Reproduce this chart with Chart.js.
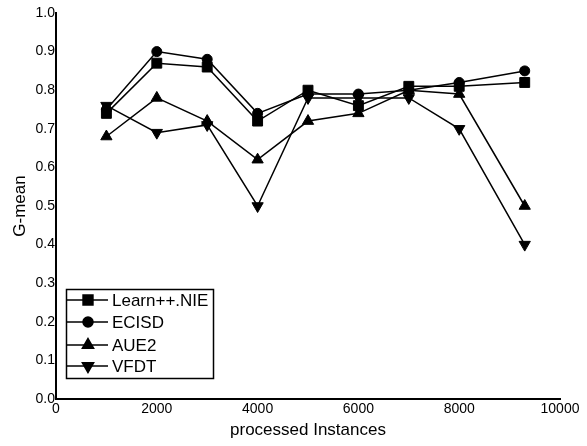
<!DOCTYPE html>
<html>
<head>
<meta charset="utf-8">
<script src="https://cdn.jsdelivr.net/npm/chart.js@4/dist/chart.umd.min.js"></script>
<style>
  body { margin: 0; background: #fff; }
  canvas { display: block; }
</style>
</head>
<body>
<canvas id="gmean" width="587" height="446"></canvas>
<script>
// processed instances (x) and G-mean per method
const instances = [1000, 2000, 3000, 4000, 5000, 6000, 7000, 8000, 9300];
const learnNIE = [0.74, 0.87, 0.86, 0.72, 0.80, 0.76, 0.81, 0.81, 0.82];
const ecisd    = [0.75, 0.90, 0.88, 0.74, 0.79, 0.79, 0.80, 0.82, 0.85];
const aue2     = [0.68, 0.78, 0.72, 0.62, 0.72, 0.74, 0.80, 0.79, 0.50];
const vfdt     = [0.76, 0.69, 0.71, 0.50, 0.78, 0.78, 0.78, 0.70, 0.40];
const seriesNames = ['Learn++.NIE', 'ECISD', 'AUE2', 'VFDT'];

const font = 'Arial, "Liberation Sans", sans-serif';

function series(label, values, style, radius, rotation) {
    return {
        label: label,
        data: values.map((v, i) => ({ x: instances[i], y: v })),
        borderColor: '#000',
        backgroundColor: '#000',
        borderWidth: 1.5,
        pointStyle: style,
        pointRadius: radius,
        pointRotation: rotation || 0,
        pointBorderWidth: 1,
        pointBackgroundColor: '#000',
        pointBorderColor: '#000',
        tension: 0
    };
}

// legend box with line + marker, drawn by hand
const boxLegend = {
    id: 'boxLegend',
    afterDraw(chart) {
        const ctx = chart.ctx;
        ctx.save();
        ctx.strokeStyle = '#000';
        ctx.lineWidth = 1.5;
        ctx.strokeRect(66.5, 289.5, 147, 89);
        const rows = [300, 322, 345, 366];
        chart.data.datasets.forEach((ds, i) => {
            const y = rows[i];
            ctx.beginPath();
            ctx.lineWidth = 1.5;
            ctx.moveTo(67, y);
            ctx.lineTo(108, y);
            ctx.stroke();
            ctx.fillStyle = '#000';
            Chart.helpers.drawPoint(ctx, {
                pointStyle: ds.pointStyle,
                radius: ds.pointRadius,
                rotation: ds.pointRotation,
                borderWidth: 1
            }, 88, y);
            ctx.fill();
            ctx.font = '17px ' + font;
            ctx.textBaseline = 'middle';
            ctx.textAlign = 'left';
            ctx.fillText(ds.label, 112, y + 1);
        });
        ctx.restore();
    }
};

new Chart(document.getElementById('gmean'), {
    type: 'line',
    data: {
        datasets: [
            series(seriesNames[0], learnNIE, 'rect', 7),
            series(seriesNames[1], ecisd, 'circle', 5),
            series(seriesNames[2], aue2, 'triangle', 6.5),
            series(seriesNames[3], vfdt, 'triangle', 6.5, 180)
        ]
    },
    options: {
        responsive: false,
        animation: false,
        layout: { padding: { top: 13, right: 27, bottom: 0, left: 0 } },
        plugins: {
            legend: { display: false },
            tooltip: { enabled: false }
        },
        scales: {
            x: {
                type: 'linear',
                min: 0,
                max: 10000,
                grid: { display: false, drawTicks: false },
                border: { color: '#000', width: 2 },
                ticks: {
                    stepSize: 2000,
                    padding: 2,
                    color: '#000',
                    maxRotation: 0,
                    font: { family: font, size: 14 },
                    callback: v => String(v)
                },
                title: {
                    display: true,
                    text: 'processed Instances',
                    color: '#000',
                    padding: { top: 0, bottom: 5 },
                    font: { family: font, size: 17 }
                },
                afterFit(scale) { scale.height = 47; }
            },
            y: {
                min: 0,
                max: 1,
                grid: { display: false, drawTicks: false },
                border: { color: '#000', width: 2 },
                ticks: {
                    stepSize: 0.1,
                    padding: 1,
                    color: '#000',
                    font: { family: font, size: 14 },
                    callback: v => v.toFixed(1)
                },
                title: {
                    display: true,
                    text: 'G-mean',
                    color: '#000',
                    padding: { top: 10, bottom: 0 },
                    font: { family: font, size: 17 }
                },
                afterFit(scale) { scale.width = 56; }
            }
        }
    },
    plugins: [boxLegend]
});
</script>
</body>
</html>
